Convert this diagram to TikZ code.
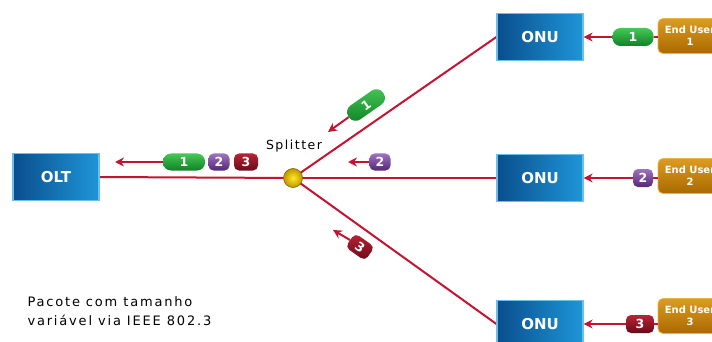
\documentclass[tikz,border=0pt]{standalone}
\usepackage{fontspec}
\setmainfont{DejaVu Sans}
\usetikzlibrary{arrows.meta,backgrounds}

\definecolor{wirered}{RGB}{196,20,50}
\definecolor{bluedark}{RGB}{10,78,142}
\definecolor{bluelight}{RGB}{30,150,215}
\definecolor{blueedge}{RGB}{110,190,235}
\definecolor{golddark}{RGB}{170,105,0}
\definecolor{goldlight}{RGB}{220,155,35}
\definecolor{goldedge}{RGB}{235,180,70}
\definecolor{greentop}{RGB}{70,200,85}
\definecolor{greenbot}{RGB}{15,130,40}
\definecolor{purptop}{RGB}{160,115,190}
\definecolor{purpbot}{RGB}{85,40,120}
\definecolor{redtop}{RGB}{185,35,55}
\definecolor{redbot}{RGB}{105,10,25}
\definecolor{ballin}{RGB}{255,235,40}
\definecolor{ballout}{RGB}{190,150,0}
\definecolor{balledge}{RGB}{130,100,0}

\tikzset{
  unit/.style={rectangle, minimum width=86pt, minimum height=47pt, inner sep=0pt,
    left color=bluedark, right color=bluelight, draw=blueedge, line width=1.2pt,
    text=white, font=\bfseries\fontsize{15}{15}\selectfont},
  enduser/.style={rectangle, rounded corners=5pt, minimum width=64pt, minimum height=35pt,
    inner sep=0pt, top color=goldlight, bottom color=golddark, draw=goldedge, line width=0.8pt,
    text=white, align=center, font=\bfseries\fontsize{10}{12}\selectfont},
  tag/.style={rectangle, inner sep=0pt, minimum height=17pt, text=white,
    font=\bfseries\fontsize{12.5}{12.5}\selectfont},
  tagone/.style={tag, rounded corners=8pt, minimum width=42pt, top color=greentop, bottom color=greenbot},
  tagtwo/.style={tag, rounded corners=5pt, minimum width=21pt, top color=purptop, bottom color=purpbot},
  tagthree/.style={tag, rounded corners=5pt, minimum width=24pt, top color=redtop, bottom color=redbot},
  wire/.style={draw=wirered, line width=2pt},
  flow/.style={draw=wirered, line width=2pt, -{Stealth[length=9pt,width=9pt]}},
  splitball/.style={circle, minimum size=19pt, inner sep=0pt, inner color=ballin,
    outer color=ballout, draw=balledge, line width=0.6pt},
  note/.style={font=\fontsize{13}{19}\selectfont\addfontfeatures{LetterSpace=14}, align=left}
}

\begin{document}
\begin{tikzpicture}[x=1pt,y=-1pt]
\clip (0,0) rectangle (712,342);

% equipment
\node[unit] (olt) at (56,177) {OLT};
\node[unit] (onu1) at (540,37) {ONU};
\node[unit] (onu2) at (540,178) {ONU};
\node[unit] (onu3) at (540,324) {ONU};
\node[splitball] (sp) at (293,178) {};
\node[font=\fontsize{12.5}{12.5}\selectfont\addfontfeatures{LetterSpace=12}] (splab) at (294,146) {Splitter};

\node[enduser] (u1) at (690,36) {End User\\1};
\node[enduser] (u2) at (690,176) {End User\\2};
\node[enduser] (u3) at (690,316) {End User\\3};

% white sheet and fibre tree behind the equipment
\begin{scope}[on background layer]
  \fill[white] (0,0) rectangle (712,342);
  \draw[wire] (olt.east) -- (sp.center);
  \draw[wire] (sp.center) -- (onu1.west);
  \draw[wire] (sp.center) -- (onu2.west);
  \draw[wire] (sp.center) -- (onu3.west);
\end{scope}

% upstream frames at the OLT
\node[tagone] (m1) at (184,162) {1};
\node[tagtwo] (m2) at (219,162) {2};
\node[tagthree] (m3) at (246,162) {3};
\coordinate (a0) at (115,162);
\draw[flow] (m1.west) -- (a0);

% frames on the branches
\node[tagone, rotate=35] (b1) at (366,105) {1};
\coordinate (a1) at (328,132);
\draw[flow] (b1.west) -- (a1);

\node[tagtwo] (b2) at (380,162) {2};
\coordinate (a2) at (348,162);
\draw[flow] (b2.west) -- (a2);

\node[tagthree, rotate=-35] (b3) at (360,247) {3};
\coordinate (a3) at (333,230);
\draw[flow] (b3.west) -- (a3);

% frames leaving the end users
\node[tagone, minimum width=41pt, minimum height=18pt] (r1) at (633,37) {1};
\draw[wire] (r1.east) -- (r1.east -| u1.west);
\draw[flow] (r1.west) -- (onu1.east);

\node[tagtwo, minimum width=20pt, minimum height=18pt] (r2) at (643,178) {2};
\draw[wire] (r2.east) -- (r2.east -| u2.west);
\draw[flow] (r2.west) -- (onu2.east);

\node[tagthree, minimum width=28pt, minimum height=18pt] (r3) at (640,324) {3};
\draw[wire] (r3.east) -- (r3.east -| u3.west);
\draw[flow] (r3.west) -- (onu3.east);

% caption
\node[note, anchor=west] (cap) at (24,311) {Pacote com tamanho\\variável via IEEE 802.3};
\end{tikzpicture}
\end{document}
